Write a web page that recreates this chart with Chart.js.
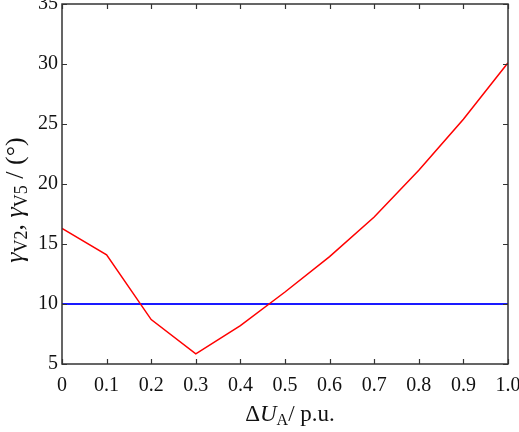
<!DOCTYPE html>
<html><head><meta charset="utf-8">
<script src="https://cdn.jsdelivr.net/npm/chart.js@4/dist/chart.umd.min.js"></script>
<style>html,body{margin:0;padding:0;background:#fff}#wrap{width:519px;height:432px}</style>
</head><body><div id="wrap"><canvas id="c" width="519" height="432"></canvas></div>
<script>
const xValues = [0, 0.1, 0.2, 0.3, 0.4, 0.5, 0.6, 0.7, 0.8, 0.9, 1.0];
const gammaV2 = [16.3, 14.1, 8.7, 5.85, 8.2, 11.0, 13.95, 17.25, 21.15, 25.4, 30.1];
const gammaV5 = [10.0, 10.0, 10.0, 10.0, 10.0, 10.0, 10.0, 10.0, 10.0, 10.0, 10.0];
const xTicks = [0, 0.1, 0.2, 0.3, 0.4, 0.5, 0.6, 0.7, 0.8, 0.9, 1.0];
const yTicks = [5, 10, 15, 20, 25, 30, 35];

const FONT = "'Liberation Serif', 'Times New Roman', serif";

const framePlugin = {
  id: 'frame',
  afterDraw(chart) {
    const ctx = chart.ctx, a = chart.chartArea;
    const xs = chart.scales.x, ys = chart.scales.y;
    ctx.save();
    ctx.strokeStyle = '#333';
    ctx.lineWidth = 1.5;
    ctx.strokeRect(a.left, a.top, a.right - a.left, a.bottom - a.top);
    ctx.lineWidth = 1.2;
    const L = 5;
    ctx.beginPath();
    xTicks.forEach(v => {
      const px = Math.round(xs.getPixelForValue(v)) + 0.5;
      ctx.moveTo(px, a.bottom); ctx.lineTo(px, a.bottom - L);
      ctx.moveTo(px, a.top); ctx.lineTo(px, a.top + L);
    });
    yTicks.forEach(v => {
      const py = Math.round(ys.getPixelForValue(v)) + 0.5;
      ctx.moveTo(a.left, py); ctx.lineTo(a.left + L, py);
      ctx.moveTo(a.right, py); ctx.lineTo(a.right - L, py);
    });
    ctx.stroke();

    function drawRuns(runs, cx, cy) {
      let total = 0;
      runs.forEach(r => { ctx.font = r.f; r.w = ctx.measureText(r.t).width; total += r.w; });
      let x = cx - total / 2;
      runs.forEach(r => { ctx.font = r.f; ctx.fillText(r.t, x, cy + (r.dy || 0)); x += r.w; });
    }
    ctx.fillStyle = '#111';
    ctx.textBaseline = 'alphabetic';
    ctx.textAlign = 'left';
    const xb = '23px ' + FONT, xi = 'italic 23px ' + FONT, xs2 = '16px ' + FONT;
    drawRuns([
      {t: 'Δ', f: xb}, {t: 'U', f: xi}, {t: 'A', f: xs2, dy: 4}, {t: '/ p.u.', f: xb}
    ], (a.left + a.right) / 2 + 5, 421);
    const yb = '26px ' + FONT, yi = 'italic 26px ' + FONT, ys2 = '18px ' + FONT;
    ctx.translate(23, (a.top + a.bottom) / 2 + 16);
    ctx.rotate(-Math.PI / 2);
    drawRuns([
      {t: 'γ', f: yi}, {t: 'V2', f: ys2, dy: 4}, {t: ', ', f: yb},
      {t: 'γ', f: yi}, {t: 'V5', f: ys2, dy: 4}, {t: ' / (°)', f: yb}
    ], 0, 0);
    ctx.restore();
  }
};

new Chart(document.getElementById('c'), {
  type: 'line',
  data: {
    datasets: [
      { label: 'γV2', data: xValues.map((x, i) => ({x, y: gammaV2[i]})), borderColor: '#ff0000', borderWidth: 1.5, pointRadius: 0, tension: 0, fill: false },
      { label: 'γV5', data: xValues.map((x, i) => ({x, y: gammaV5[i]})), borderColor: '#1a1aff', borderWidth: 2, pointRadius: 0, tension: 0, fill: false }
    ]
  },
  options: {
    responsive: false,
    animation: false,
    devicePixelRatio: 1,
    layout: { padding: { top: 4, right: 11, left: 0, bottom: 0 } },
    plugins: { legend: { display: false }, tooltip: { enabled: false } },
    scales: {
      x: {
        type: 'linear', min: 0, max: 1.0,
        afterBuildTicks: s => { s.ticks = xTicks.map(v => ({value: v})); },
        afterFit: s => { s.height = 68; s.paddingLeft = 0; s.paddingRight = 0; },
        grid: { display: false, drawTicks: false },
        border: { display: false },
        ticks: { color: '#111', font: { family: FONT, size: 20 }, padding: 10, maxRotation: 0, autoSkip: false,
          callback: v => v === 0 ? '0' : v.toFixed(1) }
      },
      y: {
        type: 'linear', min: 5, max: 35,
        afterBuildTicks: s => { s.ticks = yTicks.map(v => ({value: v})); },
        afterFit: s => { s.width = 62; s.paddingTop = 0; s.paddingBottom = 0; },
        grid: { display: false, drawTicks: false },
        border: { display: false },
        ticks: { color: '#111', font: { family: FONT, size: 20 }, padding: 4 }
      }
    }
  },
  plugins: [framePlugin]
});
</script></body></html>
